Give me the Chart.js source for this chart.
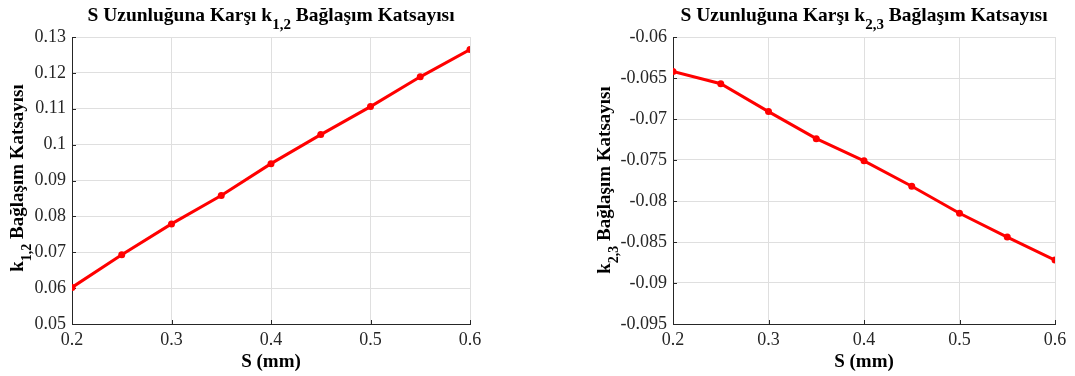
<!DOCTYPE html>
<html>
<head>
<meta charset="utf-8">
<script src="https://cdn.jsdelivr.net/npm/chart.js@4"></script>
<style>
  html, body { margin: 0; padding: 0; background: #fff; }
  #wrap { position: relative; width: 1075px; height: 376px; }
  .box { position: absolute; top: 0; height: 376px; }
</style>
</head>
<body>
<div id="wrap">
  <div class="box" style="left:0;width:537px"><canvas id="chartK12"></canvas></div>
  <div class="box" style="left:537px;width:538px"><canvas id="chartK23"></canvas></div>
</div>
<script>
// S (mm) values and coupling coefficients
const sValues = [0.2, 0.25, 0.3, 0.35, 0.4, 0.45, 0.5, 0.55, 0.6];
const k12Values = [0.0602, 0.0693, 0.0779, 0.0858, 0.0947, 0.1028, 0.1106, 0.1189, 0.1265];
const k23Values = [-0.0642, -0.0657, -0.0691, -0.0724, -0.0751, -0.0782, -0.0815, -0.0844, -0.0872];

const xTicks = [0.2, 0.3, 0.4, 0.5, 0.6];
const k12Ticks = [0.05, 0.06, 0.07, 0.08, 0.09, 0.1, 0.11, 0.12, 0.13];
const k23Ticks = [-0.095, -0.09, -0.085, -0.08, -0.075, -0.07, -0.065, -0.06];

const FONT = '"Liberation Serif", "Times New Roman", serif';
const AXIS_COLOR = '#262626';
const GRID_COLOR = '#dfdfdf';

// draws text made of normal + subscript pieces, centered on (x, y)
function drawRich(ctx, parts, x, y, size, rotate) {
    ctx.save();
    ctx.translate(x, y);
    if (rotate) ctx.rotate(-Math.PI / 2);
    ctx.fillStyle = '#000';
    ctx.textBaseline = 'alphabetic';
    ctx.textAlign = 'left';
    const subSize = Math.round(size * 0.75);
    let total = 0;
    parts.forEach(p => {
        ctx.font = 'bold ' + (p.sub ? subSize : size) + 'px ' + FONT;
        p.w = ctx.measureText(p.t).width;
        total += p.w;
    });
    let cx = -total / 2;
    parts.forEach(p => {
        ctx.font = 'bold ' + (p.sub ? subSize : size) + 'px ' + FONT;
        ctx.fillText(p.t, cx, p.sub ? 8 : 0);
        cx += p.w;
    });
    ctx.restore();
}

const labelsPlugin = {
    id: 'matlabLabels',
    beforeDatasetsDraw(chart) {
        // inward tick marks like MATLAB
        const { ctx, chartArea: a, scales } = chart;
        ctx.save();
        ctx.strokeStyle = AXIS_COLOR;
        ctx.lineWidth = 1;
        ctx.beginPath();
        scales.x.ticks.forEach(t => {
            const px = Math.round(scales.x.getPixelForValue(t.value)) + 0.5;
            ctx.moveTo(px, a.bottom);
            ctx.lineTo(px, a.bottom - 4);
        });
        scales.y.ticks.forEach(t => {
            const py = Math.round(scales.y.getPixelForValue(t.value)) + 0.5;
            ctx.moveTo(a.left, py);
            ctx.lineTo(a.left + 4, py);
        });
        ctx.stroke();
        ctx.restore();
    },
    afterDraw(chart) {
        const o = chart.options.plugins.matlabLabels;
        const { ctx, chartArea: a } = chart;
        const cx = (a.left + a.right) / 2;
        drawRich(ctx, [{ t: 'S Uzunluğuna Karşı k' }, { t: o.sub, sub: true }, { t: ' Bağlaşım Katsayısı' }], cx, 21, 19.5, false);
        drawRich(ctx, [{ t: 'k' }, { t: o.sub, sub: true }, { t: ' Bağlaşım Katsayısı' }], a.left - o.yTitleGap, o.yTitleMid, 19, true);
        drawRich(ctx, [{ t: 'S (mm)' }], cx, 367, 19, false);
    }
};

function fmt(v) {
    return String(parseFloat(Number(v).toFixed(4)));
}

function makeChart(id, values, yTicks, sub, padLeft, padRight, yTitleGap, yTitleMid) {
    const canvas = document.getElementById(id);
    return new Chart(canvas.getContext('2d'), {
        type: 'line',
        data: {
            datasets: [{
                data: sValues.map((s, i) => ({ x: s, y: values[i] })),
                borderColor: '#ff0000',
                backgroundColor: '#ff0000',
                borderWidth: 3,
                pointRadius: 3.5,
                pointBorderWidth: 0,
                pointBackgroundColor: '#ff0000',
                tension: 0
            }]
        },
        options: {
            responsive: true,
            maintainAspectRatio: false,
            animation: false,
            layout: { padding: { left: padLeft, right: padRight, top: 37, bottom: 0 } },
            scales: {
                x: {
                    type: 'linear',
                    min: 0.2,
                    max: 0.6,
                    afterBuildTicks: s => { s.ticks = xTicks.map(v => ({ value: v })); },
                    afterFit: s => { s.height = 52; },
                    grid: { color: GRID_COLOR, drawTicks: false },
                    border: { display: true, color: AXIS_COLOR, width: 1 },
                    ticks: {
                        color: AXIS_COLOR,
                        padding: 5,
                        maxRotation: 0,
                        font: { family: FONT, size: 18 },
                        callback: fmt
                    }
                },
                y: {
                    min: yTicks[0],
                    max: yTicks[yTicks.length - 1],
                    afterBuildTicks: s => { s.ticks = yTicks.map(v => ({ value: v })); },
                    afterFit: s => { s.width = 72; },
                    grid: { color: GRID_COLOR, drawTicks: false },
                    border: { display: true, color: AXIS_COLOR, width: 1 },
                    ticks: {
                        color: AXIS_COLOR,
                        padding: 6,
                        font: { family: FONT, size: 18 },
                        callback: fmt
                    }
                }
            },
            plugins: {
                legend: { display: false },
                tooltip: { enabled: false },
                matlabLabels: { sub: sub, yTitleGap: yTitleGap, yTitleMid: yTitleMid }
            }
        },
        plugins: [labelsPlugin]
    });
}

makeChart('chartK12', k12Values, k12Ticks, '1,2', 0, 67, 49, 178);
makeChart('chartK23', k23Values, k23Ticks, '2,3', 64, 20, 63, 180);
</script>
</body>
</html>
